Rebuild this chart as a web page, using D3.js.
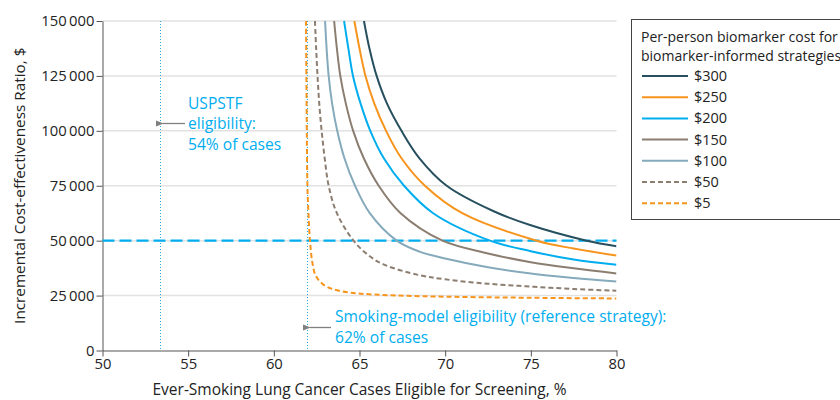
<!DOCTYPE html>
<html><head><meta charset="utf-8">
<script src="https://cdn.jsdelivr.net/npm/d3@7"></script>
<style>body{margin:0;background:#fff} svg{display:block} text{font-family:"Open Sans", Lato, sans-serif}</style>
</head><body><svg id="c" width="840" height="400"></svg>
<script>
// ---- data ----
const xTicks = [50, 55, 60, 65, 70, 75, 80];
const yTicks = [0, 25000, 50000, 75000, 100000, 125000, 150000];
const legendTitle = ["Per-person biomarker cost for", "biomarker-informed strategies"];
const legendLabels = ["$300", "$250", "$200", "$150", "$100", "$50", "$5"];
const cost300 = [[65.26,150000],[65.58,137500],[66.0,125000],[66.6,112500],[67.45,100000],[68.5,87500],[70.09,75000],[72.8,63500],[75,57000],[78.26,50000],[80,47500]];
const cost250 = [[64.70,150000],[65.0,137500],[65.35,125000],[65.86,112500],[66.55,100000],[67.45,87500],[68.82,75000],[71.0,62500],[75.34,50000],[77.5,46400],[80,43200]];
const cost200 = [[64.1,150000],[64.35,137500],[64.62,125000],[65.06,112500],[65.63,100000],[66.42,87500],[67.6,75000],[69.3,62500],[72.62,50000],[75,45200],[77.5,41400],[80,39000]];
const cost150 = [[63.52,150000],[63.68,137500],[63.88,125000],[64.2,112500],[64.63,100000],[65.25,87500],[66.12,75000],[67.4,62500],[69.85,50000],[72.5,44200],[75,40200],[77.5,37400],[80,35100]];
const cost100 = [[62.99,150000],[63.08,137500],[63.2,125000],[63.4,112500],[63.7,100000],[64.12,87500],[64.74,75000],[65.6,62500],[67.17,50000],[68.5,45000],[70,41900],[72.5,37900],[75,35000],[77.5,33000],[80,31400]];
const cost50  = [[62.40,150000],[62.47,137500],[62.55,125000],[62.65,112500],[62.79,100000],[62.97,87500],[63.2,75000],[63.68,62500],[64.65,50000],[65.5,43500],[66.4,39200],[68.5,34300],[70,32400],[72.5,30400],[75,29100],[77.5,28000],[80,27200]];
const cost5   = [[61.88,150000],[61.90,125000],[61.925,100000],[61.96,75000],[62.02,62500],[62.11,50000],[62.25,40000],[62.45,34000],[62.89,30000],[63.5,27800],[64.5,26300],[65.81,25500],[68.72,24700],[75,24000],[80,23700]];
const seriesValues = [cost300, cost250, cost200, cost150, cost100, cost50, cost5];
const thresholdICER = 50000;
const uspstfEligibility = 53.33;
const smokingModelEligibility = 61.92;
const uspstfNote = ["USPSTF", "eligibility:", "54% of cases"];
const smokingNote = ["Smoking-model eligibility (reference strategy):", "62% of cases"];
const xTitle = "Ever-Smoking Lung Cancer Cases Eligible for Screening, %";
const yTitle = "Incremental Cost-effectiveness Ratio, $";

// ---- styles ----
const colors = ["#27505f", "#f7941d", "#00aeef", "#8b7e71", "#85aabb", "#8b7e71", "#f7941d"];
const dashes = [null, null, null, null, null, "5,3", "5,3"];
const blue = "#00aeef";
const FONT = '"Open Sans", Lato, sans-serif';

const svg = d3.select("#c");
const L = 102.5, R = 616.5, T = 21, B = 350.5;
const x = d3.scaleLinear().domain([50, 80]).range([L, R]);
const y = d3.scaleLinear().domain([0, 150000]).range([B, T]);
const fmt = v => d3.format(",")(v).replace(/,/g, "\u2009");

// gridlines
svg.append("g").selectAll("line").data(yTicks.filter(d => d > 0)).join("line")
  .attr("x1", L).attr("x2", R).attr("y1", d => y(d)).attr("y2", d => y(d))
  .attr("stroke", "#e2e2e2").attr("stroke-width", 1.5);

// axes
const yAxis = svg.append("g").attr("transform", `translate(${L},0)`)
  .call(d3.axisLeft(y).tickValues(yTicks).tickFormat(fmt).tickSize(6).tickSizeOuter(0));
const xAxis = svg.append("g").attr("transform", `translate(0,${B})`)
  .call(d3.axisBottom(x).tickValues(xTicks).tickSize(6).tickSizeOuter(0));
[yAxis, xAxis].forEach(a => {
  a.select(".domain").attr("stroke", "#555");
  a.selectAll(".tick line").attr("stroke", "#555");
  a.selectAll(".tick text").attr("font-size", 14.8).attr("fill", "#222").attr("font-family", FONT);
});
yAxis.selectAll(".tick text").attr("x", -8);
xAxis.selectAll(".tick text").attr("y", 8);

// vertical eligibility lines
[uspstfEligibility, smokingModelEligibility].forEach(v => {
  const px = Math.round(x(v)) + 0.5;
  svg.append("line").attr("x1", px).attr("x2", px).attr("y1", T).attr("y2", B)
    .attr("stroke", "#29abe2").attr("stroke-width", 1).attr("stroke-dasharray", "1,2");
});

// threshold
svg.append("line").attr("x1", L).attr("x2", R).attr("y1", y(thresholdICER)).attr("y2", y(thresholdICER))
  .attr("stroke", blue).attr("stroke-width", 2.2).attr("stroke-dasharray", "12,5");

// clip
svg.append("clipPath").attr("id", "clip").append("rect").attr("x", L).attr("y", T - 1).attr("width", R - L).attr("height", B - T + 1);

const line = d3.line().x(d => x(d[0])).y(d => y(d[1])).curve(d3.curveCatmullRom.alpha(0.5));
svg.append("g").attr("clip-path", "url(#clip)").selectAll("path").data(seriesValues).join("path")
  .attr("d", line).attr("fill", "none")
  .attr("stroke", (d, i) => colors[i]).attr("stroke-width", 2)
  .attr("stroke-dasharray", (d, i) => dashes[i]);

// arrows
svg.append("defs").append("marker").attr("id", "arr").attr("viewBox", "0 0 10 10")
  .attr("refX", 1).attr("refY", 5).attr("markerWidth", 8).attr("markerHeight", 8)
  .attr("orient", "auto-start-reverse").attr("markerUnits", "userSpaceOnUse")
  .append("path").attr("d", "M0,5 L10,1 L10,9 Z").attr("fill", "#808080");
svg.append("line").attr("x1", 185).attr("x2", Math.round(x(uspstfEligibility)) + 3).attr("y1", 123.5).attr("y2", 123.5)
  .attr("stroke", "#808080").attr("stroke-width", 1.3).attr("marker-end", "url(#arr)");
svg.append("line").attr("x1", 331).attr("x2", Math.round(x(smokingModelEligibility)) + 3).attr("y1", 327.5).attr("y2", 327.5)
  .attr("stroke", "#808080").attr("stroke-width", 1.3).attr("marker-end", "url(#arr)");

// annotations
svg.append("text").attr("x", 188).attr("y", 108.5).attr("font-size", 15.6).attr("fill", blue)
  .selectAll("tspan").data(uspstfNote).join("tspan").attr("x", 188).attr("dy", (d, i) => i ? 20.5 : 0).text(d => d);
svg.append("text").attr("x", 335).attr("y", 322).attr("font-size", 15.6).attr("fill", blue)
  .selectAll("tspan").data(smokingNote).join("tspan").attr("x", 335).attr("dy", (d, i) => i ? 20.5 : 0).text(d => d);

// axis titles
svg.append("text").attr("x", (L + R) / 2).attr("y", 395).attr("text-anchor", "middle")
  .attr("font-size", 15.5).attr("fill", "#222").text(xTitle);
svg.append("text").attr("transform", `translate(25,${(T + B) / 2}) rotate(-90)`).attr("text-anchor", "middle")
  .attr("font-size", 15.3).attr("fill", "#222").text(yTitle);

// legend
const lg = svg.append("g");
lg.append("rect").attr("x", 631.5).attr("y", 19.5).attr("width", 240).attr("height", 200)
  .attr("fill", "#fff").attr("stroke", "#444").attr("stroke-width", 1);
lg.append("text").attr("font-size", 14).attr("fill", "#222").selectAll("tspan").data(legendTitle).join("tspan")
  .attr("x", 641).attr("y", (d, i) => 42 + i * 19).text(d => d);
const items = lg.selectAll("g.item").data(legendLabels).join("g").attr("class", "item")
  .attr("transform", (d, i) => `translate(0,${76 + i * 21.2})`);
items.append("line").attr("x1", 642).attr("x2", 688).attr("y1", 0).attr("y2", 0)
  .attr("stroke", (d, i) => colors[i]).attr("stroke-width", 2).attr("stroke-dasharray", (d, i) => dashes[i]);
items.append("text").attr("x", 694).attr("y", 5).attr("font-size", 14.5).attr("fill", "#222").text(d => d);
</script></body></html>
